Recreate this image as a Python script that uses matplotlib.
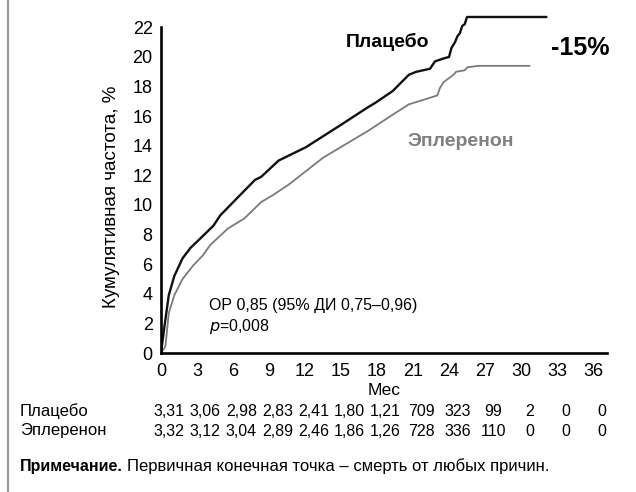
import matplotlib
matplotlib.use('Agg')
import matplotlib.pyplot as plt
from matplotlib.transforms import blended_transform_factory

plt.rcParams['font.family'] = ['Liberation Sans', 'DejaVu Sans']

# cumulative incidence curves, %
placebo_t = [0, 0.29, 0.65, 1.11, 1.8, 2.46, 3.23, 4.37, 4.94, 6.39, 7.84, 8.35, 9.8,
             12.07, 14.97, 17.24, 17.86, 19.31, 20.66, 21.28, 22.41, 22.83, 23.55,
             24.0, 24.2, 24.5, 24.7, 24.9, 25.1, 25.3, 25.5, 32.1]
placebo_y = [0, 1.8, 3.9, 5.2, 6.4, 7.1, 7.7, 8.6, 9.3, 10.5, 11.7, 11.9, 13.0,
             13.9, 15.4, 16.6, 16.9, 17.7, 18.8, 19.0, 19.2, 19.7, 19.9,
             20.0, 20.6, 21.0, 21.4, 21.6, 22.1, 22.2, 22.7, 22.7]
eplerenone_t = [0, 0.37, 0.65, 1.11, 1.8, 2.67, 3.49, 4.11, 5.56, 6.96, 8.35, 9.39,
                10.68, 13.52, 17.24, 19.31, 20.66, 23.03, 23.24, 23.55, 24.38, 24.59,
                25.31, 25.52, 26.45, 30.7]
eplerenone_y = [0, 0.45, 2.7, 3.9, 5.0, 5.9, 6.6, 7.3, 8.4, 9.1, 10.2, 10.7,
                11.4, 13.2, 15.0, 16.1, 16.8, 17.4, 17.9, 18.3, 18.8, 19.0,
                19.1, 19.3, 19.4, 19.4]

# numbers at risk
months = [0, 3, 6, 9, 12, 15, 18, 21, 24, 27, 30, 33, 36]
risk_placebo = ['3,31', '3,06', '2,98', '2,83', '2,41', '1,80', '1,21', '709', '323', '99', '2', '0', '0']
risk_eplerenone = ['3,32', '3,12', '3,04', '2,89', '2,46', '1,86', '1,26', '728', '336', '110', '0', '0', '0']
yticks = list(range(0, 23, 2))

fig = plt.figure(figsize=(6.36, 4.92), dpi=100)
ax = fig.add_axes([0.2531, 0.2825, 0.702, 0.692])

ax.plot(placebo_t, placebo_y, color='#111111', lw=1.7, solid_joinstyle='round')
ax.plot(eplerenone_t, eplerenone_y, color='#7a7a7a', lw=1.3, solid_joinstyle='round')

ax.set_xlim(0, 37.2)
ax.set_ylim(0, 23)
ax.set_xticks(months)
ax.set_yticks(yticks)
ax.tick_params(length=0, labelsize=13)
ax.tick_params(axis='y', pad=6)
ax.tick_params(axis='x', pad=7)
for s in ['top', 'right']:
    ax.spines[s].set_visible(False)
ax.spines['left'].set_bounds(0, 22)
ax.spines['left'].set_linewidth(1.9)
ax.spines['bottom'].set_linewidth(1.9)
ax.set_xlabel('Мес', fontsize=12.5, labelpad=2)

fig.text(111 / 636, 1 - 197 / 492, 'Кумулятивная частота, %', rotation=90,
         ha='center', va='center', fontsize=13.5)

# annotations
ax.text(18.9, 21.0, 'Плацебо', fontsize=14, fontweight='bold', ha='center', va='center')
ax.text(34.9, 20.6, '-15%', fontsize=18, fontweight='bold', ha='center', va='center')
ax.text(25.0, 14.3, 'Эплеренон', fontsize=14, fontweight='bold', color='#7f7f7f',
        ha='center', va='center')
ax.text(3.97, 3.2, 'ОР 0,85 (95% ДИ 0,75–0,96)', fontsize=11.5, ha='left', va='center')
ax.text(3.97, 1.8, r'$\it{p}$=0,008', fontsize=11.5, ha='left', va='center')

# numbers at risk table
tr = blended_transform_factory(ax.transData, fig.transFigure)
fig.text(20 / 636, 1 - 411 / 492, 'Плацебо', fontsize=12, va='center')
fig.text(20 / 636, 1 - 431 / 492, 'Эплеренон', fontsize=12, va='center')
for m, a, b in zip(months, risk_placebo, risk_eplerenone):
    ax.text(m + 0.7, 1 - 411 / 492, a, transform=tr, ha='center', va='center',
            fontsize=11.5, clip_on=False)
    ax.text(m + 0.7, 1 - 431 / 492, b, transform=tr, ha='center', va='center',
            fontsize=11.5, clip_on=False)

note = fig.text(20 / 636, 1 - 466 / 492, 'Примечание.', fontsize=11.5,
                fontweight='bold', va='center')
ax.annotate('Первичная конечная точка – смерть от любых причин.',
            xy=(1, 0.5), xycoords=note, xytext=(3, 0), textcoords='offset points',
            fontsize=12, ha='left', va='center', annotation_clip=False)

# left border line of the source figure
fig.add_artist(plt.Line2D([8 / 636, 8 / 636], [0, 1], color='#9a9a9a', lw=1.6))

fig.savefig('out.png', dpi=100)
